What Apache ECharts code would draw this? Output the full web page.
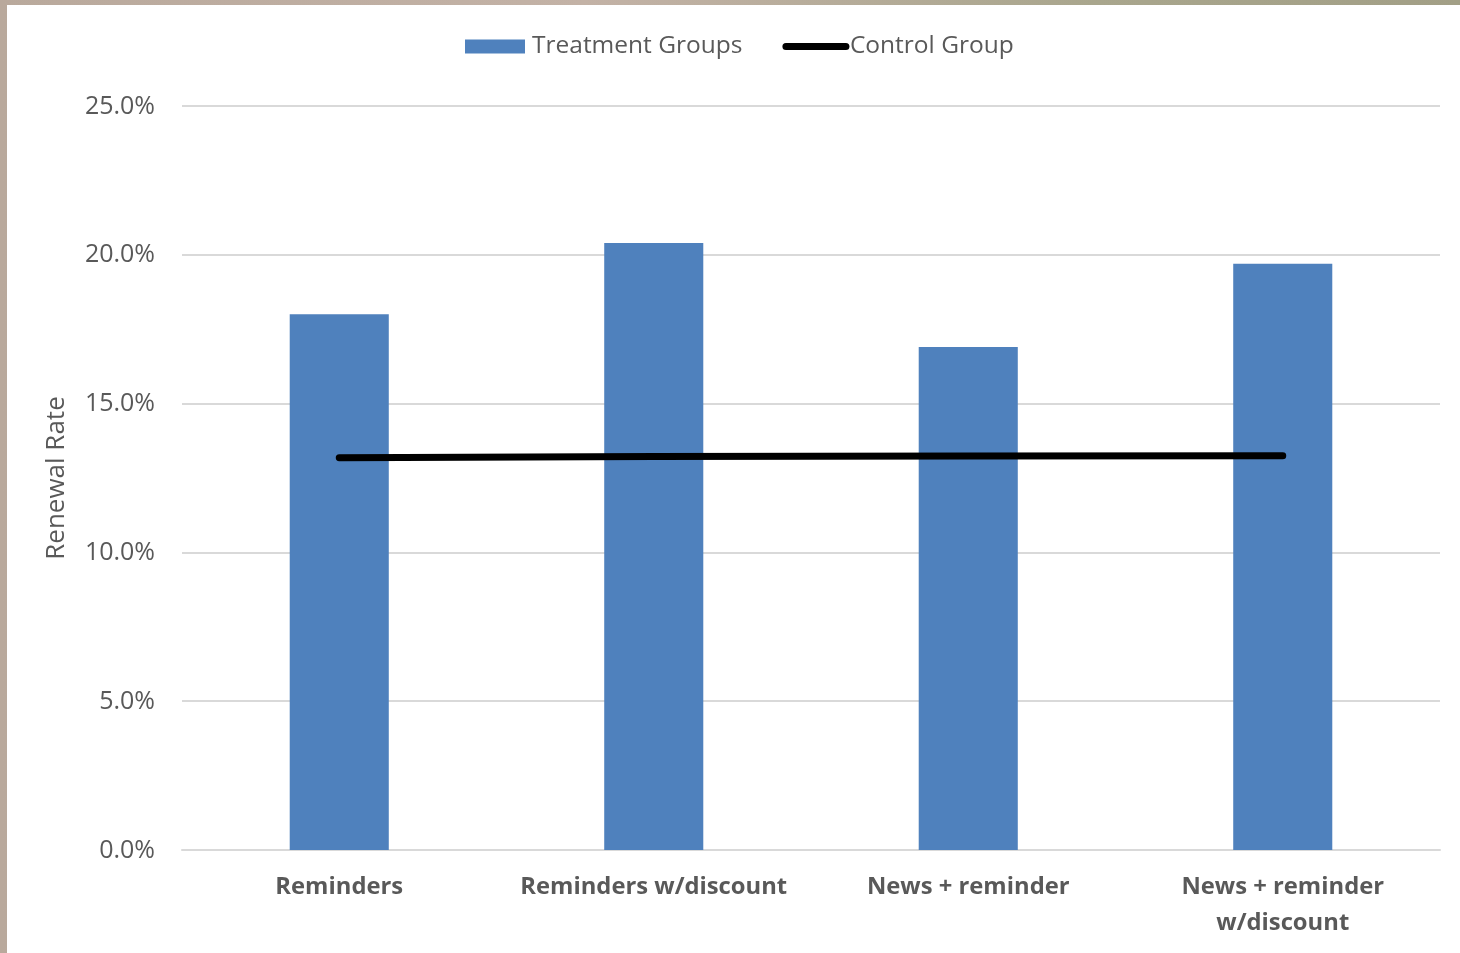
<!DOCTYPE html>
<html>
<head>
<meta charset="utf-8">
<script src="https://cdn.jsdelivr.net/npm/echarts@6/dist/echarts.min.js"></script>
<style>
  html, body { margin: 0; padding: 0; width: 1460px; height: 953px; overflow: hidden; }
  body {
    background: linear-gradient(90deg, #b9a99c 0%, #c3b2a6 40%, #a9a68d 75%, #a29f86 100%);
  }
  #frame {
    position: absolute; left: 7px; top: 5px; right: 0; bottom: 0;
    background: #ffffff;
  }
  #chart { position: absolute; left: -7px; top: -5px; width: 1460px; height: 953px; }
</style>
</head>
<body>
<div id="frame"><div id="chart"></div></div>
<script>
// Renewal rate by mailing treatment, against the control group rate
const categories = ['Reminders', 'Reminders w/discount', 'News + reminder', 'News + reminder\nw/discount'];
const treatmentRates = [18.0, 20.4, 16.9, 19.7];
const controlRates = [13.18, 13.22, 13.24, 13.25];
const yTicks = { min: 0, max: 25, interval: 5 };

const labelFont = '"Open Sans", Lato, sans-serif';
const grey = '#595959';

const chart = echarts.init(document.getElementById('chart'), null, { renderer: 'canvas' });
chart.setOption({
  animation: false,
  backgroundColor: 'transparent',
  legend: {
    top: 34,
    left: 465,
    padding: 0,
    itemGap: 40,
    itemWidth: 60,
    itemHeight: 14,
    textStyle: { color: grey, fontSize: 24.5, fontFamily: labelFont },
    data: [
      { name: 'Treatment Groups', icon: 'rect', textStyle: { padding: [0, 0, 0, 2] } },
      {
        name: 'Control Group',
        itemStyle: { opacity: 0 },
        lineStyle: { width: 7, color: '#000', cap: 'round' },
        textStyle: { padding: [0, 0, 0, -1] }
      }
    ]
  },
  grid: { left: 182, right: 20, top: 106, bottom: 103, containLabel: false },
  xAxis: {
    type: 'category',
    data: categories,
    axisLine: { show: true, lineStyle: { color: '#d9d9d9', width: 2 } },
    axisTick: { show: false },
    axisLabel: {
      color: grey, fontSize: 23.8, fontWeight: 'bold', fontFamily: labelFont,
      margin: 19, lineHeight: 36, interval: 0
    }
  },
  yAxis: {
    type: 'value',
    min: yTicks.min, max: yTicks.max, interval: yTicks.interval,
    name: 'Renewal Rate',
    nameLocation: 'middle',
    nameGap: 112,
    nameTextStyle: { color: grey, fontSize: 26, fontFamily: labelFont },
    axisLine: { show: false },
    axisTick: { show: false },
    splitLine: { lineStyle: { color: '#d9d9d9', width: 2 } },
    axisLabel: {
      color: grey, fontSize: 25, fontFamily: labelFont, margin: 27,
      verticalAlign: 'top', padding: [-12, 0, 0, 0],
      formatter: v => v.toFixed(1) + '%'
    }
  },
  series: [
    {
      name: 'Treatment Groups',
      type: 'bar',
      data: treatmentRates,
      barWidth: '31.5%',
      itemStyle: { color: '#4f81bd' },
      z: 2
    },
    {
      name: 'Control Group',
      type: 'line',
      data: controlRates,
      showSymbol: false,
      symbol: 'none',
      lineStyle: { color: '#000', width: 7, cap: 'round' },
      itemStyle: { color: '#000' },
      z: 3
    }
  ]
});
</script>
</body>
</html>
